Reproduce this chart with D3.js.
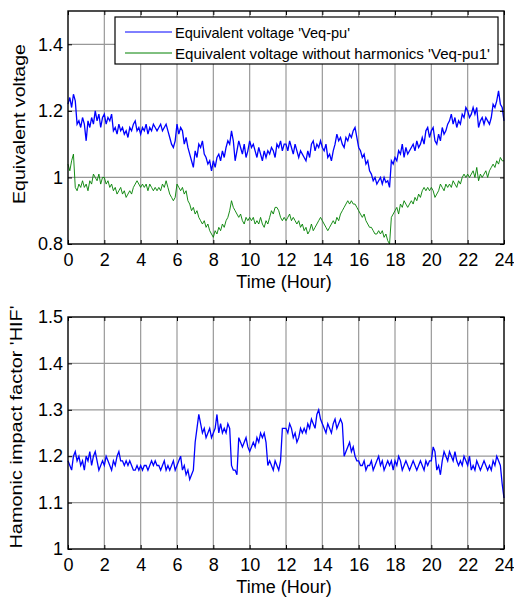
<!DOCTYPE html>
<html>
<head>
<meta charset="utf-8">
<script src="https://cdn.jsdelivr.net/npm/d3@7"></script>
<style>
body { margin: 0; background: #fff; }
text { font-family: Arial, 'Liberation Sans', sans-serif; }
</style>
</head>
<body>
<div id="graph"></div>
<script>
// hourly samples every 0.1 h, 0 .. 24
var hours = d3.range(0, 241).map(function(i) { return i / 10; });

var veq = [
  1.22,1.24,1.21,1.25,1.23,1.16,1.17,1.15,1.18,1.16,
  1.11,1.17,1.15,1.18,1.16,1.20,1.17,1.19,1.15,1.18,
  1.19,1.16,1.18,1.17,1.19,1.14,1.15,1.13,1.16,1.14,
  1.15,1.13,1.14,1.12,1.15,1.14,1.16,1.17,1.14,1.15,
  1.13,1.15,1.14,1.16,1.13,1.15,1.14,1.16,1.15,1.14,
  1.15,1.16,1.14,1.15,1.16,1.14,1.12,1.10,1.09,1.11,
  1.16,1.13,1.15,1.14,1.10,1.12,1.09,1.07,1.05,1.03,
  1.08,1.06,1.10,1.09,1.11,1.07,1.06,1.04,1.05,1.02,
  1.05,1.03,1.06,1.07,1.05,1.08,1.06,1.09,1.11,1.10,
  1.14,1.11,1.05,1.08,1.11,1.09,1.07,1.10,1.06,1.08,
  1.11,1.09,1.10,1.08,1.06,1.09,1.07,1.05,1.08,1.06,
  1.08,1.07,1.09,1.08,1.06,1.10,1.09,1.11,1.08,1.10,
  1.10,1.08,1.11,1.09,1.07,1.10,1.08,1.06,1.08,1.07,
  1.06,1.05,1.08,1.06,1.10,1.11,1.08,1.10,1.09,1.11,
  1.09,1.08,1.10,1.06,1.07,1.05,1.08,1.10,1.13,1.11,
  1.12,1.10,1.09,1.12,1.11,1.13,1.12,1.14,1.15,1.12,
  1.09,1.08,1.06,1.07,1.04,1.05,1.02,1.01,0.99,1.00,
  0.98,0.99,1.00,0.98,1.00,0.985,0.99,0.97,1.05,1.04,
  1.06,1.05,1.08,1.07,1.10,1.06,1.09,1.07,1.08,1.09,
  1.10,1.08,1.11,1.09,1.10,1.12,1.10,1.14,1.15,1.12,
  1.14,1.15,1.11,1.10,1.13,1.11,1.15,1.13,1.14,1.16,
  1.17,1.19,1.16,1.18,1.15,1.17,1.16,1.19,1.18,1.21,
  1.20,1.18,1.19,1.21,1.19,1.21,1.15,1.17,1.18,1.16,
  1.18,1.17,1.16,1.18,1.22,1.21,1.23,1.26,1.22,1.21,
  1.17
];

var veq1 = [
  1.04,1.02,1.05,1.07,0.97,0.96,0.98,0.97,0.99,0.97,
  0.98,0.96,0.99,0.98,1.01,1.00,0.99,1.01,0.98,1.00,
  1.00,0.98,0.99,0.97,0.98,0.96,0.97,0.95,0.96,0.97,
  0.95,0.96,0.94,0.95,0.96,0.95,0.97,0.98,0.99,0.98,
  0.97,0.98,0.97,0.98,0.96,0.98,0.97,0.96,0.97,0.96,
  0.97,0.96,0.98,0.97,0.99,0.97,0.95,0.94,0.93,0.94,
  0.98,0.97,0.96,0.97,0.95,0.96,0.93,0.92,0.90,0.91,
  0.89,0.90,0.88,0.87,0.86,0.87,0.85,0.86,0.84,0.83,
  0.82,0.84,0.83,0.85,0.84,0.86,0.85,0.87,0.88,0.90,
  0.93,0.91,0.90,0.89,0.88,0.89,0.87,0.86,0.88,0.87,
  0.88,0.87,0.88,0.86,0.87,0.86,0.88,0.86,0.85,0.87,
  0.86,0.88,0.90,0.89,0.91,0.91,0.90,0.88,0.87,0.88,
  0.87,0.88,0.89,0.87,0.88,0.87,0.86,0.87,0.85,0.86,
  0.84,0.85,0.83,0.84,0.86,0.84,0.85,0.86,0.87,0.88,
  0.87,0.86,0.85,0.84,0.85,0.86,0.87,0.86,0.88,0.87,
  0.89,0.90,0.91,0.92,0.93,0.92,0.93,0.92,0.92,0.91,
  0.90,0.89,0.88,0.89,0.87,0.86,0.85,0.85,0.84,0.83,
  0.83,0.84,0.83,0.84,0.82,0.83,0.81,0.80,0.88,0.89,
  0.90,0.91,0.89,0.92,0.91,0.93,0.92,0.91,0.92,0.93,
  0.92,0.94,0.93,0.95,0.94,0.96,0.97,0.96,0.97,0.96,
  0.97,0.96,0.94,0.95,0.96,0.98,0.97,0.96,0.98,0.97,
  0.98,0.97,0.99,0.98,0.97,0.99,0.98,1.00,1.01,1.00,
  1.01,1.00,1.01,1.02,1.00,1.03,0.99,1.01,1.00,1.01,
  1.02,1.00,1.02,1.03,1.04,1.03,1.05,1.04,1.06,1.05,
  1.05
];

var hif = [
  1.19,1.18,1.17,1.20,1.21,1.19,1.20,1.18,1.19,1.17,
  1.20,1.19,1.21,1.18,1.20,1.21,1.19,1.17,1.18,1.19,
  1.18,1.20,1.19,1.18,1.17,1.19,1.18,1.20,1.21,1.19,
  1.19,1.18,1.19,1.18,1.19,1.18,1.17,1.17,1.18,1.17,
  1.18,1.17,1.18,1.18,1.17,1.18,1.19,1.18,1.19,1.18,
  1.18,1.17,1.18,1.19,1.17,1.18,1.17,1.18,1.19,1.17,
  1.18,1.19,1.20,1.17,1.18,1.16,1.17,1.15,1.16,1.17,
  1.23,1.26,1.29,1.27,1.25,1.26,1.24,1.25,1.26,1.24,
  1.25,1.26,1.29,1.25,1.27,1.25,1.26,1.25,1.27,1.26,
  1.18,1.17,1.17,1.16,1.24,1.23,1.22,1.23,1.24,1.22,
  1.21,1.22,1.23,1.22,1.24,1.23,1.25,1.24,1.25,1.23,
  1.18,1.19,1.18,1.17,1.19,1.18,1.17,1.19,1.26,1.26,
  1.26,1.25,1.27,1.26,1.24,1.25,1.23,1.24,1.26,1.25,
  1.26,1.25,1.27,1.26,1.28,1.27,1.26,1.29,1.30,1.28,
  1.27,1.26,1.25,1.27,1.26,1.25,1.27,1.28,1.26,1.27,
  1.28,1.27,1.20,1.21,1.22,1.23,1.21,1.22,1.20,1.19,
  1.19,1.18,1.18,1.19,1.17,1.18,1.18,1.19,1.17,1.18,
  1.19,1.20,1.18,1.19,1.17,1.18,1.19,1.18,1.19,1.17,
  1.19,1.18,1.20,1.19,1.17,1.18,1.19,1.18,1.17,1.18,
  1.19,1.18,1.17,1.18,1.19,1.18,1.17,1.19,1.18,1.19,
  1.19,1.22,1.21,1.17,1.18,1.16,1.19,1.21,1.20,1.19,
  1.21,1.20,1.19,1.21,1.19,1.18,1.19,1.18,1.20,1.19,
  1.18,1.20,1.17,1.18,1.17,1.19,1.18,1.17,1.18,1.19,
  1.18,1.17,1.18,1.17,1.19,1.18,1.20,1.19,1.18,1.14,
  1.11
];

var xTicks = d3.range(0, 25, 2);
var topYTicks = [0.8, 1, 1.2, 1.4];
var botYTicks = [1, 1.1, 1.2, 1.3, 1.4, 1.5];
var legendLabels = ["Equivalent voltage 'Veq-pu'", "Equivalent voltage without harmonics 'Veq-pu1'"];

var blue = '#0000ff',
    green = '#008000',
    gridColor = '#999999';

var width = 514, height = 599;
var left = 68, right = 504;

var svg = d3.select('#graph')
    .append('svg')
        .attr('width', width)
        .attr('height', height);

var x = d3.scaleLinear()
    .domain([0, 24])
    .range([left, right]);

function panel(top, bottom, yDomain, yTicks, yLabel, series) {
    var y = d3.scaleLinear()
        .domain(yDomain)
        .range([bottom, top]);

    var g = svg.append('g');

    // grid
    g.selectAll('.vgrid')
        .data(xTicks.slice(1, -1))
        .enter().append('line')
        .attr('x1', function(d) { return x(d); })
        .attr('x2', function(d) { return x(d); })
        .attr('y1', top)
        .attr('y2', bottom)
        .style('stroke', gridColor)
        .style('stroke-width', 1.2);
    g.selectAll('.hgrid')
        .data(yTicks.filter(function(d) { return d > yDomain[0] && d < yDomain[1]; }))
        .enter().append('line')
        .attr('x1', left)
        .attr('x2', right)
        .attr('y1', function(d) { return y(d); })
        .attr('y2', function(d) { return y(d); })
        .style('stroke', gridColor)
        .style('stroke-width', 1.2);

    // data lines
    series.forEach(function(s) {
        g.append('path')
            .datum(s.values)
            .attr('d', d3.line()
                .x(function(d, i) { return x(hours[i]); })
                .y(function(d) { return y(d); }))
            .style('fill', 'none')
            .style('stroke', s.color)
            .style('stroke-width', s.w);
    });

    // axes, ticks inward
    g.append('g')
        .attr('transform', 'translate(0,' + bottom + ')')
        .call(d3.axisBottom(x).tickValues(xTicks).tickSize(-4).tickPadding(9).tickFormat(d3.format('d')))
        .call(function(a) { a.select('.domain').remove(); });
    g.append('g')
        .attr('transform', 'translate(0,' + top + ')')
        .call(d3.axisTop(x).tickValues(xTicks).tickSize(-4).tickFormat(''))
        .call(function(a) { a.select('.domain').remove(); });
    g.append('g')
        .attr('transform', 'translate(' + left + ',0)')
        .call(d3.axisLeft(y).tickValues(yTicks).tickSize(-4).tickPadding(5).tickFormat(d3.format('')))
        .call(function(a) { a.select('.domain').remove(); });
    g.append('g')
        .attr('transform', 'translate(' + right + ',0)')
        .call(d3.axisRight(y).tickValues(yTicks).tickSize(-4).tickFormat(''))
        .call(function(a) { a.select('.domain').remove(); });

    g.selectAll('.tick text')
        .style('font-size', '18px')
        .style('fill', '#000')
        .style('font-family', 'Arial, Liberation Sans, sans-serif');
    g.selectAll('.tick line').style('stroke', '#000');

    // box
    g.append('rect')
        .attr('x', left)
        .attr('y', top)
        .attr('width', right - left)
        .attr('height', bottom - top)
        .style('fill', 'none')
        .style('stroke', '#000')
        .style('stroke-width', 1.4);

    // x label
    g.append('text')
        .attr('x', (left + right) / 2 - 2)
        .attr('y', bottom + 44)
        .attr('text-anchor', 'middle')
        .style('font-size', '18px')
        .text('Time (Hour)');

    // y label
    g.append('text')
        .attr('transform', 'rotate(-90)')
        .attr('x', -yLabel.mid)
        .attr('y', yLabel.pos)
        .attr('text-anchor', 'middle')
        .attr('textLength', yLabel.len)
        .attr('lengthAdjust', 'spacingAndGlyphs')
        .style('font-size', yLabel.size)
        .text(yLabel.text);

    return y;
}

panel(11, 244, [0.8, 1.5], topYTicks,
    { text: 'Equivalent voltage', pos: 25, size: '17px', len: 160, mid: 124 },
    [{ values: veq1, color: green, w: 0.9 }, { values: veq, color: blue, w: 1.3 }]);

panel(317, 549, [1, 1.5], botYTicks,
    { text: "Hamonic impact factor 'HIF'", pos: 22, size: '17px', len: 243, mid: 427 },
    [{ values: hif, color: blue, w: 1.3 }]);

// legend
var legend = svg.append('g');
legend.append('rect')
    .attr('x', 115)
    .attr('y', 17)
    .attr('width', 383)
    .attr('height', 47)
    .style('fill', '#fff')
    .style('stroke', '#000')
    .style('stroke-width', 1.2);
[blue, green].forEach(function(c, i) {
    legend.append('line')
        .attr('x1', 125)
        .attr('x2', 172)
        .attr('y1', 32 + i * 21)
        .attr('y2', 32 + i * 21)
        .style('stroke', c)
        .style('stroke-width', 1);
    legend.append('text')
        .attr('x', 175)
        .attr('y', 38 + i * 21)
        .attr('textLength', i == 0 ? 175 : 315)
        .attr('lengthAdjust', 'spacingAndGlyphs')
        .style('font-size', '14.5px')
        .text(legendLabels[i]);
});
</script>
</body>
</html>
